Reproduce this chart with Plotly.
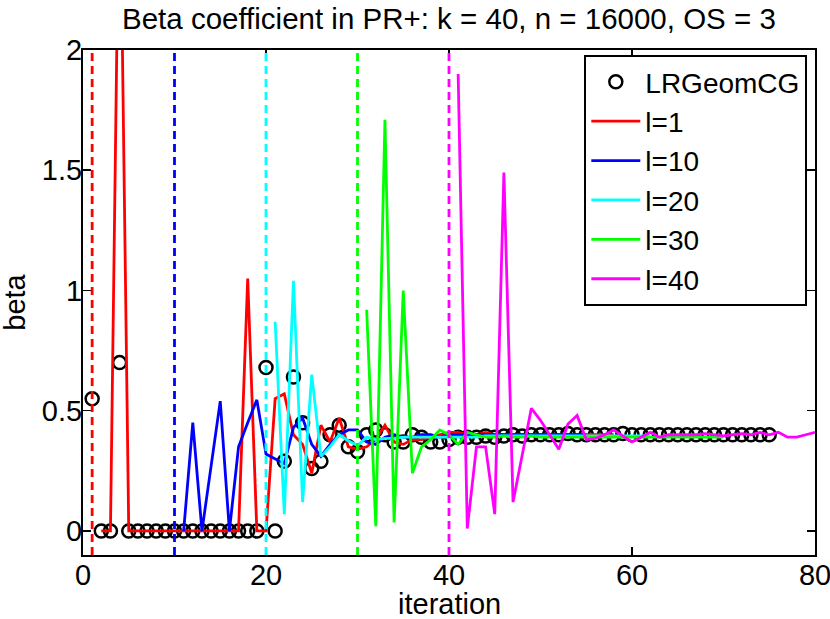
import plotly.graph_objects as go

# ---------------- data ----------------
lr_x = list(range(1, 76))
lr_y = ([0.55, 0.0, 0.0, 0.70] + [0.0] * 15 +
        [0.68, 0.0, 0.29, 0.64, 0.45, 0.26, 0.29, 0.40, 0.44, 0.35, 0.33,
         0.40, 0.42, 0.40, 0.37, 0.37, 0.40, 0.39, 0.37, 0.37, 0.38,
         0.39, 0.39, 0.39, 0.395, 0.39, 0.395, 0.40, 0.395, 0.40, 0.40,
         0.40, 0.40, 0.405, 0.40, 0.40, 0.40, 0.40, 0.40, 0.405, 0.40,
         0.40, 0.40, 0.40, 0.40, 0.40, 0.40, 0.40, 0.40, 0.40, 0.40,
         0.40, 0.40, 0.40, 0.40, 0.40])

l1_x = list(range(2, 59))
l1_y = ([0.0, 0.0, 2.9, 0.0] + [0.0] * 12 +
        [1.05, 0.0, 0.0, 0.55, 0.57, 0.40, 0.36, 0.24, 0.44, 0.37, 0.47,
         0.35, 0.34, 0.35, 0.38, 0.44, 0.37, 0.36, 0.38, 0.38, 0.39,
         0.40, 0.41, 0.41, 0.40, 0.40, 0.41, 0.40, 0.40, 0.40, 0.40,
         0.40, 0.40, 0.40, 0.40, 0.40, 0.40, 0.40, 0.40, 0.40, 0.40])

l10_x = list(range(11, 56))
l10_y = [0.0, 0.45, 0.0, 0.27, 0.54, 0.0, 0.35, 0.45, 0.545, 0.32,
         0.30, 0.28, 0.43, 0.47, 0.36, 0.31, 0.36, 0.40, 0.42, 0.42,
         0.37, 0.36, 0.39, 0.40, 0.39, 0.39, 0.40, 0.40, 0.39, 0.40,
         0.40, 0.40, 0.40, 0.40, 0.40, 0.40, 0.40, 0.40, 0.40, 0.40,
         0.40, 0.40, 0.40, 0.40, 0.40]

l20_x = list(range(21, 63))
l20_y = [0.87, 0.07, 1.04, 0.12, 0.65, 0.31, 0.35, 0.40, 0.375, 0.355,
         0.39, 0.38, 0.385, 0.385, 0.39, 0.39, 0.39, 0.39, 0.39, 0.39,
         0.39, 0.39, 0.39, 0.395, 0.395, 0.395, 0.395, 0.395, 0.395, 0.395,
         0.395, 0.395, 0.395, 0.395, 0.395, 0.395, 0.395, 0.395, 0.395, 0.395,
         0.395, 0.395]

l30_x = list(range(31, 71))
l30_y = [0.92, 0.02, 1.71, 0.035, 1.0, 0.24, 0.35, 0.38, 0.42, 0.40,
         0.36, 0.41, 0.40, 0.39, 0.39, 0.395, 0.39, 0.39, 0.395, 0.39,
         0.39, 0.39, 0.39, 0.39, 0.39, 0.39, 0.39, 0.39, 0.39, 0.39,
         0.39, 0.39, 0.39, 0.39, 0.39, 0.39, 0.39, 0.39, 0.39, 0.39]

l40_x = list(range(41, 81))
l40_y = [1.90, 0.01, 0.35, 0.35, 0.07, 1.49, 0.12, 0.31, 0.51, 0.46,
         0.40, 0.34, 0.445, 0.48, 0.38, 0.385, 0.40, 0.42, 0.395, 0.37,
         0.39, 0.41, 0.39, 0.40, 0.40, 0.40, 0.40, 0.405, 0.40, 0.395,
         0.40, 0.405, 0.40, 0.41, 0.40, 0.41, 0.39, 0.39, 0.40, 0.41]

restart_x = [1, 10, 20, 30, 40]
series_names = ["l=1", "l=10", "l=20", "l=30", "l=40"]
colors = ["#ff0000", "#0000ff", "#00ffff", "#00ff00", "#ff00ff"]

x_ticks = [0, 20, 40, 60, 80]
y_ticks = [0, 0.5, 1, 1.5, 2]
y_ticktext = ["0", "0.5", "1", "1.5", "2"]

# ---------------- figure ----------------
FONT = "Liberation Sans, Arial, Helvetica, sans-serif"
FS = 29
LW = 2.8

fig = go.Figure()
fig.add_trace(go.Scatter(
    x=lr_x, y=lr_y, mode="markers", name="LRGeomCG",
    marker=dict(symbol="circle-open", size=13, color="black",
                line=dict(width=2.5, color="black")),
    legendgroup="g0"))

for xs, ys, nm, c, g in zip([l1_x, l10_x, l20_x, l30_x, l40_x],
                            [l1_y, l10_y, l20_y, l30_y, l40_y],
                            series_names, colors, range(1, 6)):
    fig.add_trace(go.Scatter(x=xs, y=ys, mode="lines", name=nm,
                             line=dict(color=c, width=LW),
                             legendgroup="g%d" % g))

for v, c in zip(restart_x, colors):
    fig.add_shape(type="line", xref="x", yref="paper", x0=v, x1=v,
                  y0=0, y1=1, layer="above",
                  line=dict(color=c, width=LW, dash="8px,5px"))

axis_common = dict(showline=True, linecolor="black", linewidth=2,
                   mirror="ticks", ticks="inside", ticklen=8,
                   tickwidth=1.5, tickcolor="black", showgrid=False,
                   zeroline=False, automargin=False,
                   ticklabeloverflow="allow",
                   tickfont=dict(family=FONT, size=FS, color="black"))

fig.update_layout(
    width=830, height=619,
    margin=dict(l=83, r=15, t=50, b=64),
    paper_bgcolor="white", plot_bgcolor="white",
    font=dict(family=FONT, size=FS, color="black"),
    showlegend=True,
    legend=dict(x=0.9895, y=0.99, xanchor="right", yanchor="top",
                bgcolor="white", bordercolor="black", borderwidth=2,
                font=dict(family=FONT, size=28, color="black"),
                tracegroupgap=0, itemwidth=49),
    xaxis=dict(range=[0, 80], tickvals=x_ticks, ticklabelstandoff=-7,
               **axis_common),
    yaxis=dict(range=[-0.1, 2], tickvals=y_ticks, ticktext=y_ticktext,
               ticklabelstandoff=-7, **axis_common),
    annotations=[
        dict(text="Beta coefficient in PR+: k = 40, n = 16000, OS = 3",
             xref="paper", yref="paper", x=0.5, y=1, xanchor="center",
             yanchor="bottom", yshift=13, showarrow=False,
             font=dict(family=FONT, size=29.5, color="black")),
        dict(text="iteration", xref="paper", yref="paper", x=0.5, y=0,
             xanchor="center", yanchor="top", yshift=-31, showarrow=False,
             font=dict(family=FONT, size=FS, color="black")),
        dict(text="beta", xref="paper", yref="paper", x=-0.094, y=0.5,
             xanchor="center", yanchor="middle", textangle=-90,
             showarrow=False,
             font=dict(family=FONT, size=FS, color="black")),
    ],
)

fig.write_html(
    "out.html",
    config={"displayModeBar": False, "staticPlot": True},
    post_script="document.body.style.margin='0px';"
                "document.body.style.overflow='hidden';")
